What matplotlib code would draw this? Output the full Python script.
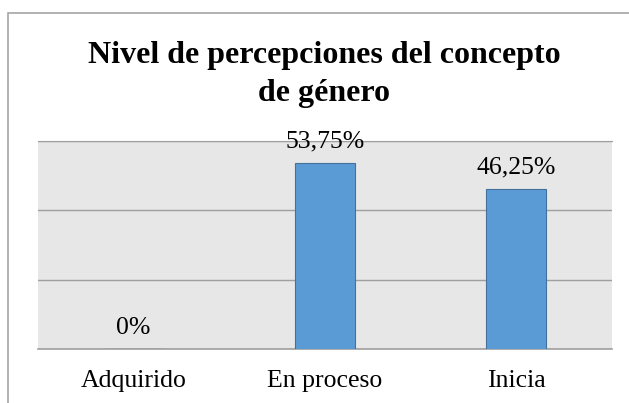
import matplotlib.pyplot as plt
from matplotlib.patches import Rectangle

categories = ["Adquirido", "En proceso", "Inicia"]
values = [0, 53.75, 46.25]
labels = ["0%", "53,75%", "46,25%"]
title = "Nivel de percepciones del concepto\nde género"

W, H = 629, 403

plt.rcParams["font.family"] = ["Liberation Serif", "DejaVu Serif"]

fig = plt.figure(figsize=(W / 100, H / 100), dpi=100)
fig.patch.set_facecolor("white")

# outer chart border (cut off at right and bottom in the reference)
fig.patches.append(Rectangle((8 / W, -0.1), 1.2, 1 - 13 / H + 0.1,
                             transform=fig.transFigure, fill=False,
                             edgecolor="#a6a6a6", linewidth=1.2))

ax = fig.add_axes([38 / W, (H - 349) / H, (612 - 38) / W, (349 - 141) / H])
ax.set_facecolor("#e7e7e7")

x = list(range(len(categories)))
ax.bar(x, values, width=0.315, color="#5b9bd5", edgecolor="#41719c",
       linewidth=0.8, zorder=3)

ax.set_xlim(-0.5, 2.5)
ax.set_ylim(0, 60)
ax.set_yticks([0, 20, 40, 60])
ax.yaxis.grid(True, color="#9f9f9f", linewidth=1.0, zorder=1)
ax.set_axisbelow(True)
ax.tick_params(axis="y", left=False, labelleft=False)
ax.set_xticks(x)
ax.set_xticklabels(categories, fontsize=18.5)
ax.tick_params(axis="x", length=0, pad=15)

for s in ["left", "right"]:
    ax.spines[s].set_visible(False)
ax.spines["top"].set_color("#9f9f9f")
ax.spines["bottom"].set_color("#9f9f9f")
ax.spines["bottom"].set_linewidth(1.2)

for xi, v, lab in zip(x, values, labels):
    ax.annotate(lab, (xi, v), xytext=(0, 7), textcoords="offset points",
                ha="center", va="bottom", fontsize=18.5, zorder=4,
                annotation_clip=False)

fig.text(324 / W, 1 - 41 / H, title, ha="center", va="top", fontsize=23,
         fontweight="bold", linespacing=1.4)

fig.savefig("out.png", dpi=100)
